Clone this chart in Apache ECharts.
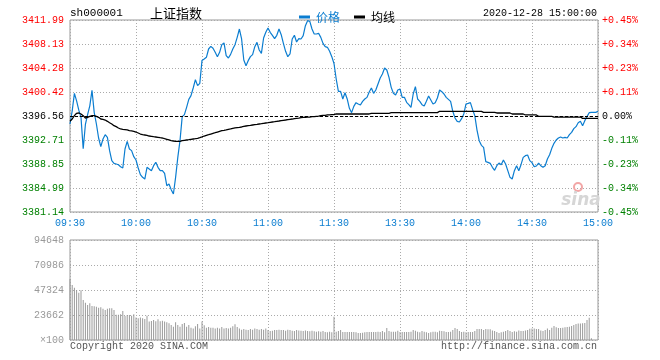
<!DOCTYPE html>
<html><head><meta charset="utf-8">
<script src="https://cdn.jsdelivr.net/npm/echarts@6/dist/echarts.min.js"></script>
<style>html,body{margin:0;padding:0;background:#fff}#c{width:660px;height:360px}</style>
</head><body><div id="c"></div>
<script>
var prevClose = 3396.56;
var yMin = 3381.14, yMax = 3411.99, yStep = 3.85625;
var leftLabels = ['3381.14','3384.99','3388.85','3392.71','3396.56','3400.42','3404.28','3408.13','3411.99'];
var rightLabels = ['-0.45%','-0.34%','-0.23%','-0.11%','0.00%','+0.11%','+0.23%','+0.34%','+0.45%'];
var xTickLabels = ['09:30','10:00','10:30','11:00','11:30','13:30','14:00','14:30','15:00'];
var volLabels = ['×100','23662','47324','70986','94648'];

var price = [
3395.28,3397.4,3400.2,3399.0,3397.5,3396.35,3391.3,3395.2,3396.8,3398.2,
3400.7,3397.15,3395.28,3393.03,3391.64,3392.87,3393.56,3393.14,3391.0,3389.39,
3388.96,3388.85,3388.74,3388.42,3388.21,3391.26,3392.5,3391.26,3391.0,3390.03,
3389.5,3388.21,3387.14,3386.71,3386.44,3388.32,3388.05,3387.78,3388.58,3389.12,
3388.32,3387.78,3387.78,3387.35,3385.37,3385.64,3384.73,3384.03,3386.71,3389.92,
3392.6,3396.46,3396.78,3397.96,3399.24,3399.83,3401.06,3402.4,3401.44,3401.81,
3405.5,
3405.72,3405.99,3407.33,3407.76,3407.44,3406.8,3406.1,3406.8,3408.03,3408.3,
3406.26,3405.88,3406.47,3407.33,3408.03,3409.2,3410.54,3408.94,3405.56,3404.65,
3405.46,3406.1,3406.42,3407.7,3408.4,3407.17,3406.63,3409.1,3410.01,3410.7,
3410.01,3409.53,3408.99,3409.53,3410.54,3409.63,3408.24,3406.96,3406.1,3406.53,
3408.94,3409.53,3408.46,3408.99,3408.94,3409.47,3411.08,3411.88,3411.78,3410.54,
3409.74,3409.74,3409.85,3409.2,3408.24,3407.7,3407.6,3406.96,3406.1,3405.0,
3402.51,3400.53,3400.53,3399.3,3400.31,3399.3,3397.8,3397.1,3398.12,3398.71,
3398.5,3398.33,3398.92,3399.3,3399.56,3400.42,3401.06,3400.21,3400.74,3401.7,
3402.67,3403.31,3404.28,3403.96,3402.78,3401.17,3400.21,3399.94,3400.74,3400.9,
3399.56,3399.56,3398.76,3398.39,3397.96,3400.1,3401.28,3399.3,3398.92,3398.39,
3398.17,3398.92,3399.78,3399.14,3398.5,3398.71,3399.46,3400.74,3400.47,3400.1,
3399.56,3399.24,3398.92,3397.32,3396.24,3395.71,3395.6,3396.14,3396.89,3398.5,
3398.6,3398.71,3397.58,3396.62,3394.31,3392.6,3391.85,3391.53,3389.23,3389.12,
3388.96,3388.32,3387.83,3388.58,3389.01,3388.74,3389.49,3388.85,3387.78,3386.71,
3386.44,3387.78,3388.58,3387.78,3388.74,3389.92,3390.19,3390.3,3389.39,3389.07,
3388.42,3388.53,3389.01,3388.58,3388.32,3388.58,3389.66,3390.35,3391.37,3392.17,
3392.71,3393.03,3393.19,3393.03,3393.14,3393.03,3393.56,3393.94,3394.53,3394.85,
3395.49,3395.71,3395.01,3395.82,3396.46,3397.1,3397.15,3397.15,3397.15,3397.32
];

var avgLine = [
3395.71,3396.08,3396.62,3397.0,3397.05,3396.89,3396.62,3396.24,3396.35,3396.51,
3396.62,3396.62,3396.51,3396.35,3396.08,3396.03,3395.92,3395.71,3395.49,3395.28,
3395.01,3394.85,3394.64,3394.48,3394.42,3394.37,3394.32,3394.21,3394.16,3394.1,
3393.99,3393.83,3393.67,3393.56,3393.51,3393.46,3393.35,3393.3,3393.24,3393.19,
3393.14,3393.08,3393.03,3392.92,3392.82,3392.71,3392.6,3392.55,3392.49,3392.49,
3392.49,3392.6,3392.66,3392.71,3392.76,3392.82,3392.87,3392.92,3392.98,3393.08,
3393.2,
3393.35,3393.46,3393.56,3393.67,3393.78,3393.88,3393.99,3394.1,3394.21,3394.26,
3394.32,3394.42,3394.48,3394.58,3394.64,3394.69,3394.74,3394.8,3394.9,3394.96,
3395.01,3395.06,3395.12,3395.17,3395.22,3395.28,3395.33,3395.39,3395.44,3395.49,
3395.55,3395.6,3395.65,3395.71,3395.76,3395.82,3395.87,3395.92,3395.98,3396.03,
3396.08,3396.14,3396.19,3396.24,3396.3,3396.35,3396.35,3396.4,3396.4,3396.46,
3396.46,3396.51,3396.56,3396.62,3396.67,3396.67,3396.73,3396.73,3396.78,3396.78,
3396.89,3396.89,3396.89,3396.89,3396.89,3396.89,3396.89,3396.89,3396.89,3396.89,
3396.89,3396.89,3396.89,3396.89,3396.89,3396.89,3396.99,3396.99,3396.99,3396.99,
3396.99,3396.99,3396.99,3396.99,3396.99,3397.1,3397.1,3397.1,3397.1,3397.1,
3397.1,3397.1,3397.1,3397.1,3397.1,3397.1,3397.1,3397.1,3397.1,3397.1,
3397.1,3397.1,3397.1,3397.1,3397.1,3397.1,3397.1,3397.32,3397.32,3397.32,
3397.32,3397.32,3397.32,3397.32,3397.32,3397.32,3397.32,3397.32,3397.32,3397.32,
3397.32,3397.32,3397.32,3397.32,3397.32,3397.32,3397.32,3397.15,3397.15,3397.15,
3397.15,3397.15,3397.15,3397.05,3397.05,3397.05,3397.05,3397.05,3397.05,3397.05,
3396.89,3396.89,3396.89,3396.89,3396.89,3396.89,3396.73,3396.73,3396.73,3396.73,
3396.73,3396.73,3396.51,3396.51,3396.51,3396.51,3396.51,3396.51,3396.51,3396.4,
3396.4,3396.4,3396.4,3396.4,3396.4,3396.4,3396.4,3396.4,3396.4,3396.4,
3396.4,3396.4,3396.19,3396.19,3396.19,3396.19,3396.19,3396.19,3396.19,3396.19
];

var volume = [
57700,52000,49500,47300,44800,47000,37900,35300,33100,34700,
32200,32000,31500,30600,31000,29500,28300,29500,30000,30000,
28300,23800,23800,24300,27400,22700,23700,23700,23000,24300,
21200,20500,21200,20500,19900,23000,17400,18000,19000,17700,
19600,17700,18300,17400,16700,15800,14200,12600,16700,14200,
12600,15200,16100,12600,14200,11700,11000,12900,15200,11000,
17400,13900,11700,12300,11700,11700,11000,11700,11000,12300,
11000,11400,11000,11700,12900,14800,12300,11000,9800,10400,
9800,9500,10400,9800,11000,10400,9800,10400,9800,11000,
9500,8500,8800,9500,9500,9800,9500,9500,8800,9800,
9500,8800,8500,9500,9100,8800,8500,9100,8500,8200,
8800,8200,7900,8200,7900,8500,7600,7300,7900,7300,
22000,
7900,8500,9500,7600,7600,7600,7600,7600,7600,7300,
6600,6600,6900,7300,7600,7600,7600,7600,7600,7900,
7600,8500,7300,11400,8500,7900,7900,7900,8800,7600,
7600,7600,7600,7600,7900,9500,8800,7900,7300,8500,
7900,7300,6600,7300,7900,7900,7300,8800,8500,8200,
7600,7600,7900,9500,11400,10400,8500,7600,7900,7300,
7600,7600,7600,8500,10400,10400,10400,9500,10400,10100,
10100,9100,8500,7600,6600,7300,7900,8500,9500,8500,
7600,8200,7900,9100,8500,8500,9100,9500,10700,11000,
11000,10400,10400,9100,8500,9500,11000,9500,11700,13200,
12000,11400,11400,11700,12000,12300,12600,13200,14200,15100,
15500,15500,15800,16100,18900,21100,1600,0,0,0
];

// minute categories 09:30-11:30, 13:01-15:00
var minutes = [];
(function(){
  function pad(n){return (n<10?'0':'')+n;}
  for (var m = 9*60+30; m <= 11*60+30; m++) minutes.push(pad(Math.floor(m/60))+':'+pad(m%60));
  for (var m2 = 13*60+1; m2 <= 15*60; m2++) minutes.push(pad(Math.floor(m2/60))+':'+pad(m2%60));
})();

var MONO = '"Liberation Mono","DejaVu Sans Mono",monospace';
var BLUE = '#0b7dd0';
var GRID = '#aaaaaa';
function every30(i){ return i % 30 === 0; }
function priceIdx(v){ return Math.round((v - yMin) / yStep); }
function signColor(i){ return i > 4 ? '#ff0000' : (i < 4 ? '#008000' : '#000000'); }

var chart = echarts.init(document.getElementById('c'), null, {renderer:'canvas'});
chart.setOption({
  animation: false,
  backgroundColor: '#fff',
  legend: {
    left: 294, top: 6, icon: 'rect', itemWidth: 11, itemHeight: 3, itemGap: 14,
    textStyle: {fontSize: 12, fontFamily: '"Noto Sans CJK SC",sans-serif', padding: [0,0,0,1]},
    data: [{name:'价格', textStyle:{color: BLUE}}, {name:'均线', textStyle:{color:'#000'}}],
    selectedMode: false
  },
  grid: [
    {left: 70, right: 62, top: 20, height: 192, show: true, borderColor: '#999', borderWidth: 1},
    {left: 70, right: 62, top: 240, height: 100, show: true, borderColor: '#999', borderWidth: 1}
  ],
  xAxis: [
    {type:'category', gridIndex:0, data: minutes, boundaryGap:false,
     axisLine:{show:false}, axisTick:{show:false},
     axisLabel:{interval: every30, color: BLUE, fontFamily: MONO, fontSize: 10, margin: 6,
       formatter: function(v, i){ return xTickLabels[i/30]; }},
     splitLine:{show:true, interval: every30, lineStyle:{color: GRID, type:[1,2]}}},
    {type:'category', gridIndex:1, data: minutes, boundaryGap:false,
     axisLine:{show:false}, axisTick:{show:false}, axisLabel:{show:false},
     splitLine:{show:true, interval: every30, lineStyle:{color: GRID, type:[1,2]}}}
  ],
  yAxis: [
    {type:'value', gridIndex:0, min:yMin, max:yMax, interval:yStep, position:'left',
     axisLine:{show:false}, axisTick:{show:false},
     axisLabel:{fontFamily: MONO, fontSize: 10, margin: 6,
       formatter: function(v){ return leftLabels[priceIdx(v)]; },
       color: function(v){ return signColor(priceIdx(v)); }},
     splitLine:{show:true, lineStyle:{color: GRID, type:[1,2]}}},
    {type:'value', gridIndex:0, min:yMin, max:yMax, interval:yStep, position:'right',
     axisLine:{show:false}, axisTick:{show:false},
     axisLabel:{fontFamily: MONO, fontSize: 10, margin: 4,
       formatter: function(v){ return rightLabels[priceIdx(v)]; },
       color: function(v){ return signColor(priceIdx(v)); }},
     splitLine:{show:false}},
    {type:'value', gridIndex:1, min:0, max:94648, interval:23662,
     axisLine:{show:false}, axisTick:{show:false},
     axisLabel:{fontFamily: MONO, fontSize: 10, margin: 6, color:'#999',
       formatter: function(v){ return volLabels[Math.round(v/23662)]; }},
     splitLine:{show:true, lineStyle:{color: GRID, type:[1,2]}}}
  ],
  series: [
    {name:'价格', type:'line', xAxisIndex:0, yAxisIndex:0, data: price, symbol:'none',
     lineStyle:{color: BLUE, width: 1.2}, itemStyle:{color: BLUE}, z: 3,
     markLine:{silent:true, symbol:'none', label:{show:false},
       lineStyle:{color:'#000', type:[3,2], width:1}, data:[{yAxis: prevClose}]}},
    {name:'均线', type:'line', xAxisIndex:0, yAxisIndex:0, data: avgLine, symbol:'none',
     lineStyle:{color:'#000', width: 1.3}, itemStyle:{color:'#000'}, z: 4},
    {name:'成交量', type:'bar', xAxisIndex:1, yAxisIndex:2, data: volume, barWidth: 1,
     itemStyle:{color:'#999'}}
  ],
  graphic: [
    {type:'text', x:70, y:13, style:{text:'sh000001', font:'11px '+MONO, fill:'#000', align:'left', verticalAlign:'middle'}},
    {type:'text', x:150, y:13, style:{text:'上证指数', font:'13px "Noto Sans CJK SC",sans-serif', fill:'#000', align:'left', verticalAlign:'middle'}},
    {type:'text', x:597, y:13, style:{text:'2020-12-28 15:00:00', font:'10px '+MONO, fill:'#000', align:'right', verticalAlign:'middle'}},
    {type:'text', x:70, y:346, style:{text:'Copyright 2020 SINA.COM', font:'10px '+MONO, fill:'#555', align:'left', verticalAlign:'middle'}},
    {type:'text', x:597, y:346, style:{text:'http://finance.sina.com.cn', font:'10px '+MONO, fill:'#555', align:'right', verticalAlign:'middle'}},
    {type:'circle', shape:{cx:578, cy:187, r:4}, style:{fill:'none', stroke:'#f2a6a6', lineWidth:2}, z:1},
    {type:'text', x:581, y:201, style:{text:'sina', font:'italic bold 17px "DejaVu Sans",sans-serif', fill:'#d6d6d6', align:'center', verticalAlign:'middle'}, z:1}
  ]
});
</script></body></html>
